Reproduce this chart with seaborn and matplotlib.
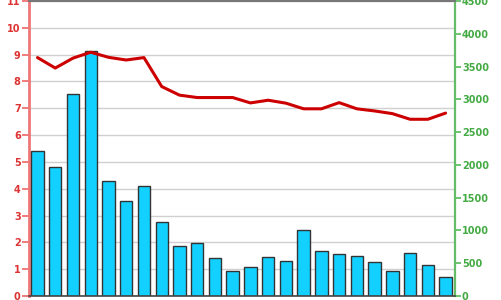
import matplotlib
matplotlib.use("Agg")
import matplotlib.pyplot as plt
import seaborn as sns
import numpy as np
import pandas as pd

# ---- data ----
periods = list(range(1, 25))
volumes = [2213, 1972, 3076, 3731, 1755, 1448, 1677, 1125, 765, 814, 577, 385,
           438, 589, 528, 1006, 683, 646, 605, 520, 376, 663, 475, 295]
ratio = [8.89, 8.50, 8.87, 9.09, 8.90, 8.80, 8.89, 7.81, 7.49, 7.40, 7.40, 7.40,
         7.20, 7.30, 7.19, 6.98, 6.98, 7.21, 6.98, 6.90, 6.80, 6.59, 6.59, 6.82]
left_ticks = list(range(0, 12))
right_ticks = list(range(0, 4501, 500))

df = pd.DataFrame({"period": periods, "volume": volumes, "ratio": ratio})
df["pos"] = np.arange(len(df))

sns.set_style("white")
plt.rcParams["font.family"] = ["DejaVu Sans"]

fig = plt.figure(figsize=(5.01, 3.00), dpi=100)
rect = [29 / 501, 4 / 300, 426 / 501, 295 / 300]

# left axis: scale + grid
ax = fig.add_axes(rect)
ax.set_ylim(0, 11)
ax.set_xlim(-0.48, 23.53)
ax.set_yticks(left_ticks)
ax.set_xticks([])
ax.grid(axis="y", color="#d0d0d0", linewidth=1)
ax.set_axisbelow(True)

# right axis: bars
ax2 = ax.twinx()
sns.barplot(data=df, x="pos", y="volume", ax=ax2, color="#12d0ff",
            edgecolor="#333333", linewidth=1.0, width=0.7, saturation=1)
ax2.set_ylim(0, 4500)
ax2.set_xlim(-0.48, 23.53)
ax2.set_yticks(right_ticks)
ax2.set_xticks([])
ax2.set_xlabel("")
ax2.set_ylabel("")

# line layer on top, sharing the left scale
ax3 = fig.add_axes(rect, sharey=ax)
ax3.patch.set_visible(False)
sns.lineplot(data=df, x="pos", y="ratio", ax=ax3, color="#cc0000", linewidth=2.2)
ax3.set_xlim(-0.48, 23.53)
ax3.axis("off")

# styling
red_lab = "#dd3333"
green_lab = "#44aa44"
ax.tick_params(axis="y", colors="#ee6666", labelcolor=red_lab, length=5, width=1.2,
               labelsize=7, pad=1)
for lab in ax.get_yticklabels():
    lab.set_fontweight("bold")
ax2.tick_params(axis="y", colors="#55bb55", labelcolor=green_lab, length=4, width=1.2,
                labelsize=7, pad=1)
for lab in ax2.get_yticklabels():
    lab.set_fontweight("bold")
ax.set_ylabel("")

for a in (ax, ax2):
    for s in a.spines.values():
        s.set_visible(False)
ax.spines["left"].set_visible(True)
ax.spines["left"].set_color("#ee7777")
ax.spines["left"].set_linewidth(2)
ax2.spines["right"].set_visible(True)
ax2.spines["right"].set_color("#66bb66")
ax2.spines["right"].set_linewidth(1.6)
ax2.spines["top"].set_visible(True)
ax2.spines["top"].set_color("#777777")
ax2.spines["top"].set_linewidth(1.5)
ax2.spines["bottom"].set_visible(True)
ax2.spines["bottom"].set_color("#444444")
ax2.spines["bottom"].set_linewidth(1.2)

fig.savefig("out.png", dpi=100)
